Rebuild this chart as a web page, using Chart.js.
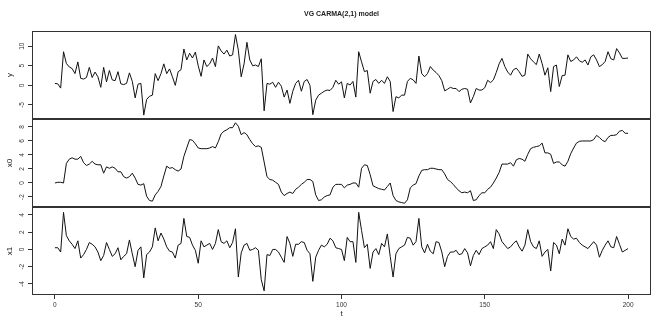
<!DOCTYPE html>
<html>
<head>
<meta charset="utf-8">
<script src="https://cdn.jsdelivr.net/npm/chart.js@4.4.0/dist/chart.umd.min.js"></script>
<style>
  html, body { margin: 0; padding: 0; background: #fff; }
  #wrap { position: relative; width: 665px; height: 333px; }
  #wrap canvas { position: absolute; left: 0; top: 0; }
</style>
</head>
<body>
<div id="wrap">
  <canvas id="panel-y" width="665" height="333"></canvas>
  <canvas id="panel-x0" width="665" height="333"></canvas>
  <canvas id="panel-x1" width="665" height="333"></canvas>
</div>
<script>
// time stamps t = 0 .. 200
const tValues = Array.from({ length: 201 }, (_, i) => i);

// observed process y
const yValues = [
    0.5, 0.4, -0.7, 8.6, 5.6, 4.7, 4.3, 3.0, 6.0, 1.8,
    1.6, 2.0, 4.6, 2.0, 3.4, 2.2, -0.5, 4.6, 0.9, 3.8,
    1.4, 1.2, 3.5, 0.4, 0.2, 0.5, 3.2, 1.0, -3.2, 0.3,
    0.5, -7.6, -3.6, -2.8, -2.5, 3.0, 1.2, 3.0, 5.5, 3.0,
    4.2, 2.2, 0.0, 3.5, 4.0, 9.3, 6.5, 8.2, 7.0, 8.5,
    5.0, 2.3, 6.5, 4.8, 5.5, 7.0, 4.8, 10.1, 8.8, 8.0,
    9.0, 7.5, 7.8, 13.0, 9.0, 2.2, 5.5, 11.0, 6.5, 5.0,
    5.2, 4.8, 6.8, -6.5, 0.5, 0.3, 0.8, -0.5, 0.8, -0.2,
    -3.0, -1.2, -4.6, -1.5, 0.5, 1.3, -1.5, 1.0, 1.5, 0.0,
    -7.5, -3.8, -2.5, -2.0, -1.5, -1.2, -1.3, -0.5, 1.3, 0.3,
    0.9, -3.2, 0.5, 0.1, 1.0, -3.0, 8.6, 6.0, 3.5, 3.8,
    -2.0, 1.0, 1.5, 0.5, 1.3, 0.5, 2.2, 1.0, -6.7, -2.9,
    -3.2, -2.5, -2.5, 1.0, 1.8, 1.4, 0.5, 7.5, 3.0, 2.2,
    3.0, 4.8, 3.9, 3.3, 2.5, 1.2, -1.4, -1.0, -0.5, -0.8,
    -0.8, -1.6, -1.0, -0.8, -1.0, -4.5, -2.9, -0.8, -1.2, -1.2,
    -0.6, 1.3, 0.7, 1.4, 3.3, 5.5, 6.9, 4.8, 3.4, 2.6,
    4.0, 4.4, 3.5, 2.3, 2.6, 8.0, 6.8, 6.0, 5.3, 8.0,
    5.6, 2.6, 4.5, -1.6, 4.8, 5.2, -0.3, 2.5, 2.6, 7.8,
    6.1, 6.5, 7.3, 6.3, 5.9, 6.5, 5.2, 7.3, 7.8, 6.5,
    4.8, 5.3, 6.1, 8.6, 6.8, 6.5, 9.4, 8.3, 6.9, 6.9,
    7.0
];

// state x0
const x0Values = [
    0.0, 0.1, 0.1, 0.0, 2.8, 3.4, 3.6, 3.4, 3.4, 3.8,
    2.9, 2.5, 2.7, 3.1, 2.7, 2.6, 2.6, 1.4, 2.3, 2.1,
    2.3, 2.1, 1.6, 1.6, 0.9, 0.7, 0.9, 1.4, 0.7, -0.2,
    -0.3, -0.1, -1.9, -2.5, -2.6, -1.7, -1.2, -0.5, 1.0, 2.4,
    2.1, 2.2, 1.9, 1.7, 2.0, 3.8, 5.0, 6.2, 6.1, 5.6,
    5.0, 4.9, 4.9, 4.9, 5.0, 5.2, 5.0, 5.9, 7.0, 7.4,
    7.6, 7.9, 7.9, 8.6, 8.1, 6.9, 7.2, 6.9, 6.2, 5.6,
    5.2, 5.3, 5.1, 3.0, 0.9, 0.5, 0.4, 0.1, -0.2, -1.3,
    -1.8, -1.5, -1.3, -1.5, -0.9, -0.6, -0.2, 0.1, 0.5, 0.5,
    0.2, -1.7, -2.5, -2.4, -2.0, -1.8, -1.7, -0.6, -0.2, -0.2,
    -0.2, -0.7, -0.3, -0.2, 0.0, 0.0, -0.6, 2.1, 2.6, 2.5,
    1.2, -0.4, -0.6, -0.8, -0.9, -1.0, -0.5, 0.0, -1.8, -2.5,
    -2.7, -2.8, -2.9, -2.4, -0.7, -0.3, -0.1, 1.0, 1.8, 1.9,
    1.9, 2.1, 2.1, 2.0, 1.9, 1.9, 1.3, 0.5, 0.2, -0.2,
    -0.7, -1.1, -1.4, -1.3, -1.4, -1.1, -2.5, -2.4, -1.8, -1.4,
    -1.4, -0.9, -0.6, 0.0, 0.7, 1.5, 2.7, 2.7, 2.7, 2.9,
    2.4, 3.3, 3.5, 3.4, 3.1, 4.1, 4.9, 5.1, 5.2, 5.3,
    5.7, 4.3, 4.3, 4.1, 2.8, 3.0, 3.0, 2.6, 2.4, 3.1,
    4.2, 5.0, 5.7, 5.95, 6.0, 6.0, 6.0, 6.0, 6.2, 6.8,
    6.5, 6.1, 5.9, 6.5, 6.8, 6.8, 6.9, 7.4, 7.5, 7.1,
    7.1
];

// state x1
const x1Values = [
    0.2, 0.2, -0.3, 4.3, 1.6, 1.0, 0.6, 0.1, 1.0, -1.0,
    -0.6, 0.0, 0.8, 0.6, 0.3, -0.3, -1.3, -0.7, 0.8, 0.0,
    -0.8, -0.5, 0.2, -1.2, -0.8, -0.5, 1.1, -0.5, -2.0, -0.1,
    0.3, -3.3, -0.6, -0.3, 0.3, 2.5, 1.0, 1.9, 1.2, 0.3,
    -0.2, -0.3, -1.0, 0.5, 0.7, 3.6, 1.5, 1.4, 0.5, -0.1,
    -1.6, 1.0, 0.3, 0.5, 0.7, 0.0, 0.7, 2.3, 0.9, 0.7,
    1.0, 0.2, 0.8, 2.4, -3.2, -0.4, 0.5, 0.7, -0.1, 0.0,
    0.2, -0.1, -3.5, -4.8, -0.6, -0.7, 0.0, 0.0, -0.3, -0.9,
    -1.5, 1.5, 0.7, -0.8, 0.6, 0.6, 0.9, 0.8, -0.1, -0.5,
    -3.7, -0.9, -0.1, 0.5, 0.3, 0.6, 1.3, 1.0, 0.2, 0.1,
    0.0, -1.3, 1.4, 0.9, 0.9, -1.5, 4.3, 2.2, 0.2, 0.6,
    -2.2, -0.3, 0.1, -0.6, 0.7, 0.3, 1.8, -0.8, -3.2, -0.5,
    0.1, 0.3, 0.5, 1.4, 1.3, 0.5, 0.9, 3.6, 0.3, -0.4,
    0.6, -0.2, -0.5, 0.9, 0.8, -0.3, -2.0, -0.8, -0.3, -0.3,
    -0.1, -0.6, -0.5, 0.1, -0.4, -1.9, -0.7, -0.1, -0.6, 0.1,
    0.3, 0.5, 0.9, 0.1, 2.3, 1.8, 0.9, 0.5, 0.1, 0.3,
    0.7, 1.0, 0.3, -0.2, 0.5, 2.3, 0.9, 0.3, 0.1, 1.0,
    -0.8, -0.3, 0.0, -2.5, 0.8, 0.5, -0.5, 1.2, 0.5, 2.4,
    1.5, 1.2, 1.3, 0.8, 0.5, 0.3, 0.1, 0.5, 0.9, 0.5,
    -0.9, -0.1, 0.5, 1.0, 0.3, 0.2, 1.5, 0.6, -0.3, -0.1,
    0.1
];

const xTicks = [0, 50, 100, 150, 200];
const yTicks = [-5, 0, 5, 10];
const x0Ticks = [-2, 0, 2, 4, 6, 8];
const x1Ticks = [-4, -2, 0, 2, 4];

const TITLE = "VG CARMA(2,1) model";
const FONT = "'Liberation Sans', Arial, Helvetica, sans-serif";
const INK = "#222";

// R style: box round the panel, rotated tick labels, axis titles
const rPanel = {
    id: "rPanel",
    afterDraw(chart, args, opts) {
        const { ctx, chartArea } = chart;
        const ys = chart.scales.y;
        ctx.save();
        ctx.strokeStyle = "#333";
        ctx.lineWidth = 1;
        const l = Math.round(chartArea.left) + 0.5;
        const t = Math.round(chartArea.top) + 0.5;
        const r = Math.round(chartArea.right) - 0.5;
        const b = Math.round(chartArea.bottom) - 0.5;
        ctx.strokeRect(l, t, r - l, b - t);

        ctx.fillStyle = "#333";
        ctx.font = "6.5px " + FONT;
        ctx.textAlign = "center";
        ctx.textBaseline = "middle";
        for (const v of opts.ticks) {
            const py = ys.getPixelForValue(v);
            ctx.save();
            ctx.translate(22, py);
            ctx.rotate(-Math.PI / 2);
            ctx.fillText(String(v), 0, 0);
            ctx.restore();
        }

        ctx.fillStyle = INK;
        ctx.font = "8px " + FONT;
        ctx.save();
        ctx.translate(10, (chartArea.top + chartArea.bottom) / 2);
        ctx.rotate(-Math.PI / 2);
        ctx.fillText(opts.label, 0, 0);
        ctx.restore();

        if (opts.xLabel) {
            ctx.fillText(opts.xLabel, (chartArea.left + chartArea.right) / 2, 314);
        }
        if (opts.title) {
            ctx.font = "bold 7px " + FONT;
            ctx.fillText(opts.title, (chartArea.left + chartArea.right) / 2, 14);
        }
        ctx.restore();
    },
};

function makePanel(canvasId, values, label, ticks, yMin, yMax, padTop, padBottom, showX, title) {
    const points = tValues.map((t, i) => ({ x: t, y: values[i] }));
    return new Chart(document.getElementById(canvasId), {
        type: "line",
        data: {
            datasets: [
                {
                    data: points,
                    borderColor: "#111",
                    borderWidth: 1,
                    pointRadius: 0,
                    tension: 0,
                    fill: false,
                },
            ],
        },
        options: {
            responsive: false,
            animation: false,
            devicePixelRatio: 1,
            layout: { padding: { top: padTop, bottom: padBottom, left: 0, right: 14 } },
            plugins: {
                legend: { display: false },
                tooltip: { enabled: false },
                rPanel: { ticks, label, title, xLabel: showX ? "t" : null },
            },
            scales: {
                x: {
                    type: "linear",
                    min: -8,
                    max: 208,
                    display: showX,
                    afterBuildTicks: (s) => { s.ticks = xTicks.map((v) => ({ value: v })); },
                    afterFit: (s) => { s.height = showX ? 38 : 0; },
                    border: { display: false },
                    grid: { drawOnChartArea: false, drawTicks: true, tickLength: 4, color: "#333" },
                    ticks: {
                        color: "#333",
                        font: { size: 6.5, family: FONT },
                        padding: 2,
                        maxRotation: 0,
                    },
                },
                y: {
                    type: "linear",
                    min: yMin,
                    max: yMax,
                    afterBuildTicks: (s) => { s.ticks = ticks.map((v) => ({ value: v })); },
                    afterFit: (s) => { s.width = 32; },
                    border: { display: false },
                    grid: { drawOnChartArea: false, drawTicks: true, tickLength: 4, color: "#333" },
                    ticks: { display: false },
                },
            },
        },
        plugins: [rPanel],
    });
}

makePanel("panel-y", yValues, "y", yTicks, -8.6, 13.9, 31, 214, false, TITLE);
makePanel("panel-x0", x0Values, "x0", x0Ticks, -3.43, 9.14, 119, 126, false, null);
makePanel("panel-x1", x1Values, "x1", x1Ticks, -5.28, 4.92, 207, 0, true, null);
</script>
</body>
</html>
